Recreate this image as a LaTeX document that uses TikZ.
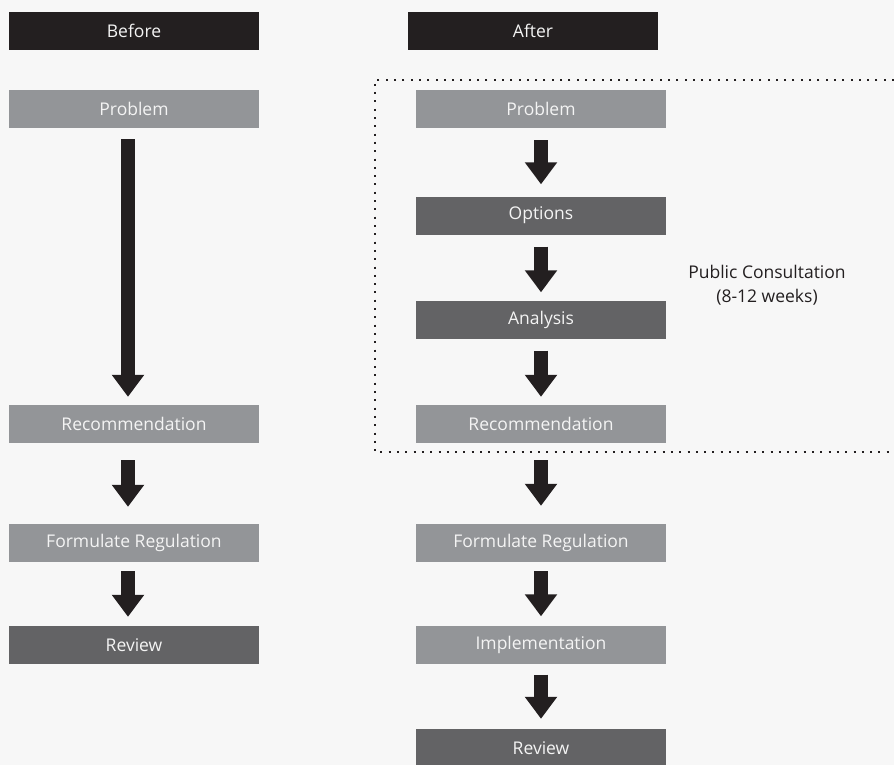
\documentclass[tikz,border=0pt]{standalone}
\usepackage{fontspec}
\setmainfont{Open Sans}
\usetikzlibrary{arrows.meta}
\definecolor{inkdark}{HTML}{231F20}
\definecolor{boxlight}{HTML}{939598}
\definecolor{boxdark}{HTML}{636365}
\definecolor{pagebg}{HTML}{F7F7F7}
\definecolor{boxtext}{HTML}{F4F4F4}
\tikzset{
	stagebox/.style={minimum width=250pt,minimum height=38pt,inner sep=0pt,text=boxtext,font=\fontsize{17.5}{21}\selectfont},
	headbox/.style={stagebox,fill=inkdark},
	lightbox/.style={stagebox,fill=boxlight},
	darkbox/.style={stagebox,fill=boxdark},
	flowarrow/.style={draw=inkdark,line width=14pt,-{Triangle[width=31pt,length=22pt]}},
	consultline/.style={draw=inkdark,line width=2pt,dash pattern=on 2pt off 6.3pt}
}
\begin{document}
\begin{tikzpicture}[x=1pt,y=-1pt]
	\fill[pagebg] (0,0) rectangle (894,765);
	\useasboundingbox (0,0) rectangle (894,765);
	% before
	\node[headbox] (lhead) at (134,31) {Before};
	\node[lightbox] (lprob) at (134,109) {Problem};
	\node[lightbox] (lrec) at (134,424) {Recommendation};
	\node[lightbox] (lform) at (134,543) {Formulate Regulation};
	\node[darkbox] (lrev) at (134,645) {Review};
	\draw[flowarrow,shorten <=11pt,shorten >=8pt] ([xshift=-6pt]lprob.south) -- ([xshift=-6pt]lrec.north);
	\draw[flowarrow,shorten <=17pt,shorten >=17pt] ([xshift=-6pt]lrec.south) -- ([xshift=-6pt]lform.north);
	\draw[flowarrow,shorten <=9pt,shorten >=9pt] ([xshift=-6pt]lform.south) -- ([xshift=-6pt]lrev.north);
	% after
	\node[headbox] (rhead) at (533,31) {After};
	\node[lightbox] (rprob) at (541,109) {Problem};
	\node[darkbox] (ropt) at (541,215.5) {Options};
	\node[darkbox] (rana) at (541,319.5) {Analysis};
	\node[lightbox] (rrec) at (541,424) {Recommendation};
	\node[lightbox] (rform) at (541,543) {Formulate Regulation};
	\node[lightbox] (rimp) at (541,644.5) {Implementation};
	\node[darkbox] (rrev) at (541,748) {Review};
	\draw[flowarrow,shorten <=12pt,shorten >=12pt] (rprob) -- (ropt);
	\draw[flowarrow,shorten <=12pt,shorten >=8pt] (ropt) -- (rana);
	\draw[flowarrow,shorten <=12pt,shorten >=8pt] (rana) -- (rrec);
	\draw[flowarrow,shorten <=17pt,shorten >=18pt] (rrec) -- (rform);
	\draw[flowarrow,shorten <=9pt,shorten >=9pt] (rform) -- (rimp);
	\draw[flowarrow,shorten <=11pt,shorten >=10pt] (rimp) -- (rrev);
	% consultation frame
	\coordinate (ctop) at (894,80);
	\coordinate (cbot) at (894,452);
	\draw[consultline] (ctop) -- (375,80) -- (375,452) -- (cbot);
	\node[text=inkdark,align=center,font=\fontsize{17.5}{24}\selectfont] (consult) at (767,285) {Public Consultation\\(8-12 weeks)};
\end{tikzpicture}
\end{document}
